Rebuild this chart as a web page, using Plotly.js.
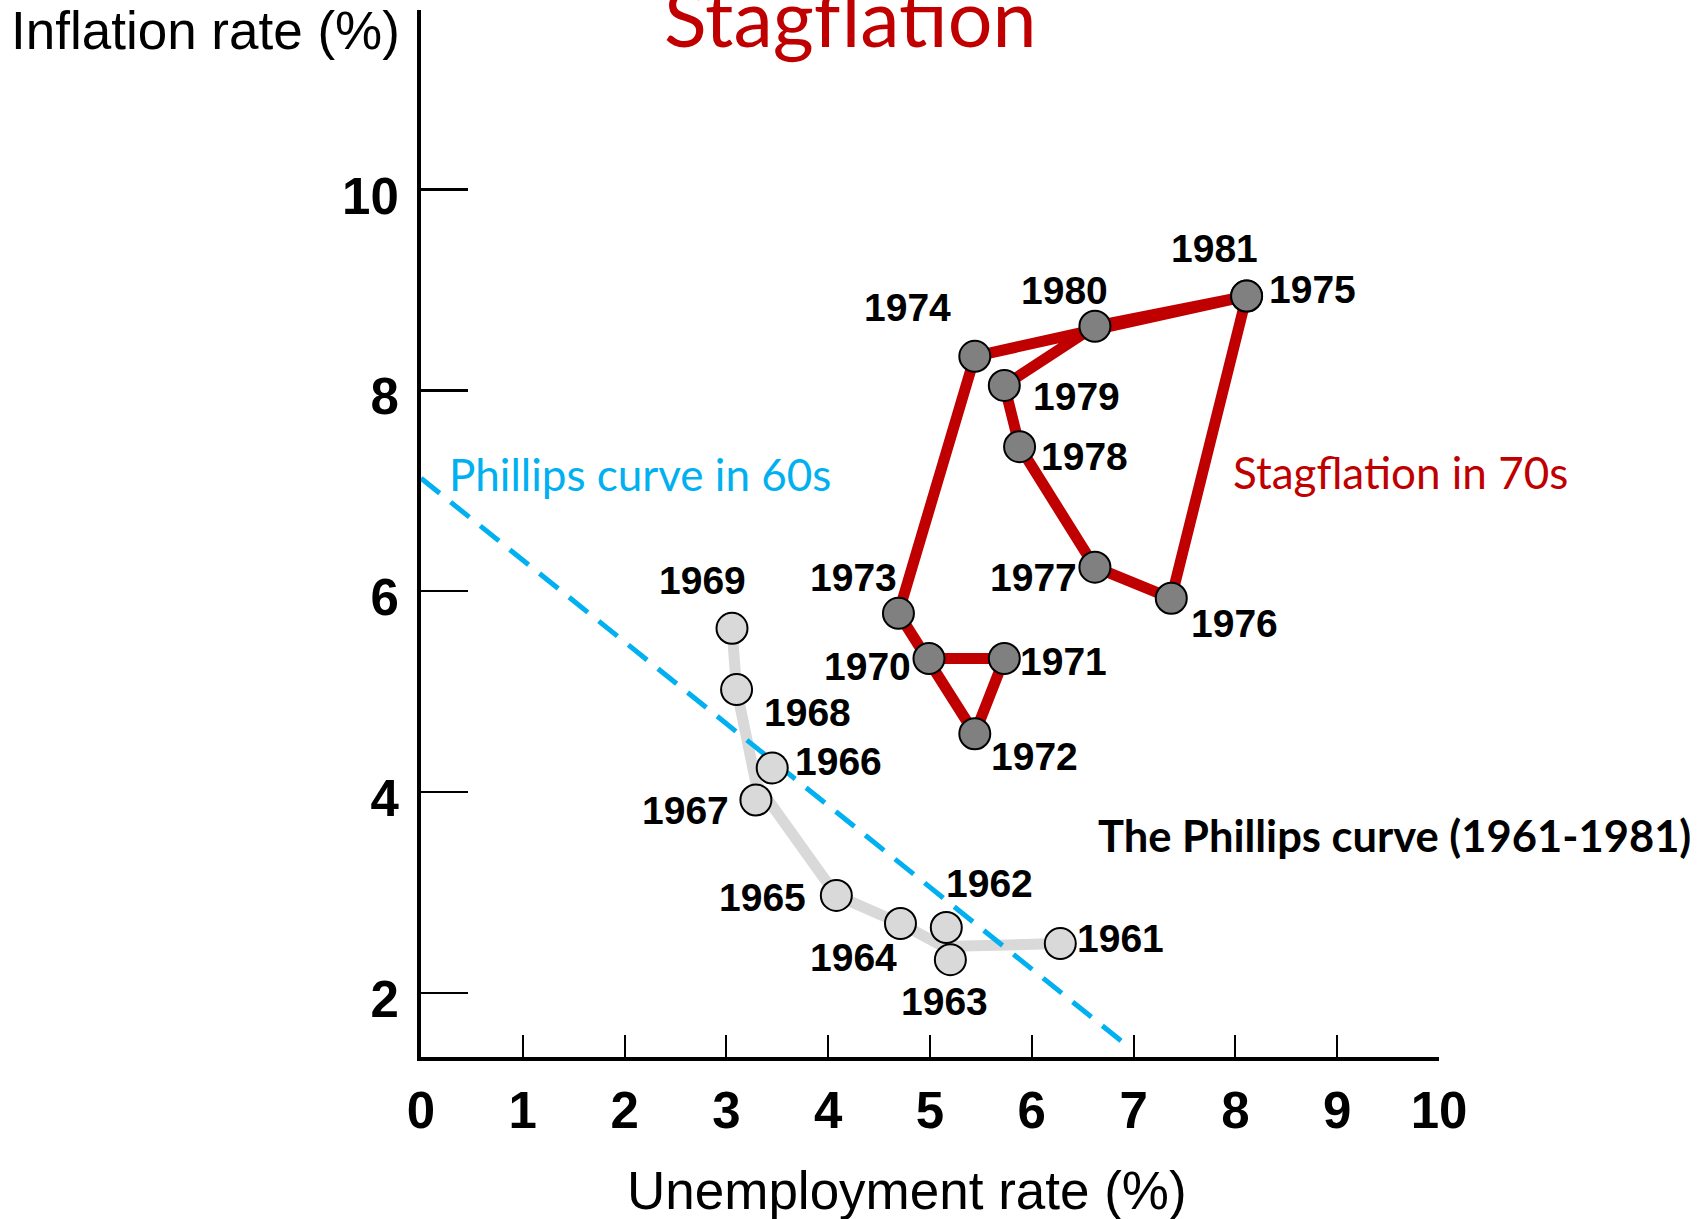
<!DOCTYPE html>
<html>
<head>
<meta charset="utf-8">
<script src="https://cdn.plot.ly/plotly-3.0.1.min.js"></script>
<style>html,body{margin:0;padding:0;background:#fff;}#chart{width:1700px;height:1219px;}</style>
</head>
<body>
<div id="chart"></div>
<script>
// ---- data ----
var sixtiesYears = [1961, 1962, 1963, 1964, 1965, 1966, 1967, 1968, 1969];
var sixtiesUnemp = [6.28, 5.16, 5.20, 4.71, 4.08, 3.45, 3.29, 3.10, 3.055];
var sixtiesInfl  = [2.49, 2.65, 2.33, 2.69, 2.97, 4.24, 3.92, 5.02, 5.63];

// smoothed grey path of the 1960s curve
var sixtiesPathUnemp = [6.28, 5.13, 4.71, 4.08, 3.29, 3.10, 3.055];
var sixtiesPathInfl  = [2.49, 2.46, 2.69, 2.97, 4.09, 5.02, 5.63];

var seventiesYears = [1970, 1971, 1972, 1973, 1974, 1975, 1976, 1977, 1978, 1979, 1980, 1981];
var seventiesUnemp = [4.99, 5.73, 5.44, 4.69, 5.44, 8.11, 7.37, 6.62, 5.88, 5.73, 6.62, 8.11];
var seventiesInfl  = [5.33, 5.33, 4.58, 5.78, 8.34, 8.94, 5.93, 6.24, 7.44, 8.05, 8.64, 8.94];

// dashed 1960s Phillips curve
var phillipsLineUnemp = [0, 6.94];
var phillipsLineInfl  = [7.125, 1.47];

var xTickVals = [0, 1, 2, 3, 4, 5, 6, 7, 8, 9, 10];
var yTickVals = [2, 4, 6, 8, 10];

// ---- presentation ----
var sixtiesLabelShift = [[60,5],[43,44],[-6,-42],[-47,-34],[-74,-2],[66,6],[-70,-10],[71,-23],[-30,48]];
var seventiesLabelShift = [[-61,-8],[59,-3],[60,-23],[-45,36],[-67,49],[66,7],[63,-25],[-61,-10],[65,-10],[72,-11],[-30,36],[-32,48]];

var ARIAL = 'Liberation Sans, Arial, sans-serif';
var CAL = 'Lato, Calibri, sans-serif';
var RED = '#c00000';
var BLUE = '#00b0f0';

var W = 1700, H = 1219;
var M = {l: 421, r: 261, t: 10, b: 162};
function px(x){ return (x - M.l) / (W - M.l - M.r); }
function py(y){ return (H - M.b - y) / (H - M.t - M.b); }

var traces = [
  {x: sixtiesPathUnemp, y: sixtiesPathInfl, mode: 'lines', type: 'scatter',
   line: {color: '#d9d9d9', width: 11}, hoverinfo: 'skip'},
  {x: phillipsLineUnemp, y: phillipsLineInfl, mode: 'lines', type: 'scatter',
   line: {color: BLUE, width: 5, dash: '24px,14px'}, hoverinfo: 'skip'},
  {x: seventiesUnemp, y: seventiesInfl, mode: 'lines', type: 'scatter',
   line: {color: RED, width: 11}, hoverinfo: 'skip'},
  {x: sixtiesUnemp, y: sixtiesInfl, mode: 'markers', type: 'scatter', cliponaxis: false,
   marker: {size: 31, color: '#d9d9d9', line: {color: '#000', width: 2}}},
  {x: seventiesUnemp, y: seventiesInfl, mode: 'markers', type: 'scatter', cliponaxis: false,
   marker: {size: 31, color: '#808080', line: {color: '#000', width: 2}}}
];

var ann = [];
function yearLabels(years, xs, ys, shifts){
  for (var i = 0; i < years.length; i++){
    ann.push({x: xs[i], y: ys[i], xref: 'x', yref: 'y', text: String(years[i]), showarrow: false,
      xshift: shifts[i][0], yshift: shifts[i][1],
      font: {family: ARIAL, size: 39, color: '#000', weight: 'bold'}});
  }
}
yearLabels(sixtiesYears, sixtiesUnemp, sixtiesInfl, sixtiesLabelShift);
yearLabels(seventiesYears, seventiesUnemp, seventiesInfl, seventiesLabelShift);

ann.push({xref: 'paper', yref: 'paper', x: px(662), y: py(66), xanchor: 'left', yanchor: 'bottom',
  text: 'Stagflation', showarrow: false, font: {family: CAL, size: 79, color: RED}});
ann.push({xref: 'paper', yref: 'paper', x: px(9), y: py(31), xanchor: 'left', yanchor: 'middle',
  text: 'Inflation rate (%)', showarrow: false, font: {family: ARIAL, size: 53, color: '#000'}});
ann.push({xref: 'paper', yref: 'paper', x: px(907), y: py(1190), xanchor: 'center', yanchor: 'middle',
  text: 'Unemployment rate (%)', showarrow: false, font: {family: ARIAL, size: 53, color: '#000'}});
ann.push({xref: 'paper', yref: 'paper', x: px(447), y: py(474), xanchor: 'left', yanchor: 'middle',
  text: 'Phillips curve in 60s', showarrow: false, font: {family: CAL, size: 44, color: BLUE}});
ann.push({xref: 'paper', yref: 'paper', x: px(1231), y: py(472), xanchor: 'left', yanchor: 'middle',
  text: 'Stagflation in 70s', showarrow: false, font: {family: CAL, size: 44, color: RED}});
ann.push({xref: 'paper', yref: 'paper', x: px(1096), y: py(835), xanchor: 'left', yanchor: 'middle',
  text: 'The Phillips curve (1961-1981)', showarrow: false, font: {family: CAL, size: 43.5, color: '#000', weight: 'bold'}});

var layout = {
  width: W, height: H, margin: M, showlegend: false,
  paper_bgcolor: '#fff', plot_bgcolor: '#fff',
  xaxis: {range: [0, 10], showgrid: false, zeroline: false, showline: true, linecolor: '#000', linewidth: 4,
    ticks: 'inside', ticklen: 22, tickwidth: 2, tickcolor: '#000', tickvals: xTickVals,
    ticklabelstandoff: 6,
    tickfont: {family: ARIAL, size: 51, color: '#000', weight: 'bold'}, fixedrange: true},
  yaxis: {range: [1.36, 11.79], showgrid: false, zeroline: false, showline: true, linecolor: '#000', linewidth: 4,
    ticks: 'inside', ticklen: 47, tickwidth: 2.5, tickcolor: '#000', tickvals: yTickVals,
    ticklabelstandoff: 8, ticklabelshift: 6,
    tickfont: {family: ARIAL, size: 51, color: '#000', weight: 'bold'}, fixedrange: true},
  annotations: ann
};

Plotly.newPlot('chart', traces, layout, {displayModeBar: false, staticPlot: true});
</script>
</body>
</html>
